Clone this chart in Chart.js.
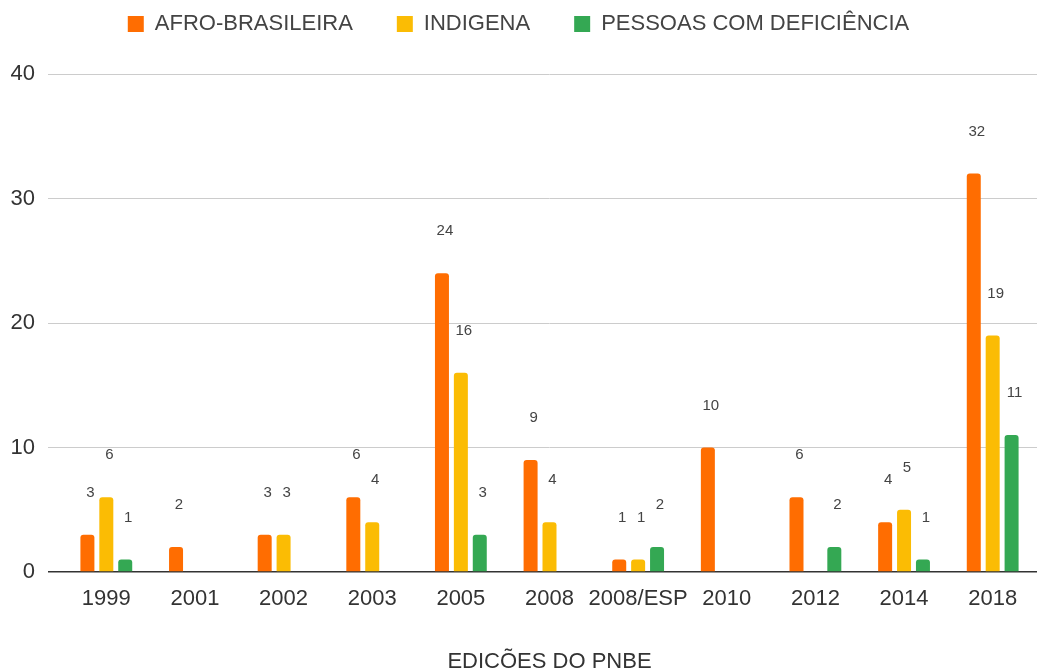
<!DOCTYPE html>
<html>
<head>
<meta charset="utf-8">
<script src="https://cdn.jsdelivr.net/npm/chart.js@4/dist/chart.umd.min.js"></script>
<style>
html,body{margin:0;padding:0;background:#fff;}
#wrap{width:1039px;height:670px;position:relative;}
</style>
</head>
<body>
<div id="wrap"><canvas id="c"></canvas></div>
<script>
const categories = ['1999','2001','2002','2003','2005','2008','2008/ESP','2010','2012','2014','2018'];
const afroBrasileira = [3, 2, 3, 6, 24, 9, 1, 10, 6, 4, 32];
const indigena = [6, null, 3, 4, 16, 4, 1, null, null, 5, 19];
const pessoasComDeficiencia = [1, null, null, null, 3, null, 2, null, 2, 1, 11];
const seriesNames = ['AFRO-BRASILEIRA', 'INDIGENA', 'PESSOAS COM DEFICIÊNCIA'];
const yTicks = [0, 10, 20, 30, 40];
const xTitle = 'EDICÕES DO PNBE';

const FONT = "'Liberation Sans', Arial, sans-serif";

const legendPlacement = {
  id: 'legendPlacement',
  beforeInit(chart) {
    const orig = chart.legend.fit;
    chart.legend.fit = function () {
      orig.bind(chart.legend)();
      this.height = 74;
    };
  },
  afterLayout(chart) {
    chart.legend.top -= 31;
    chart.legend.bottom -= 31;
  }
};

const valueLabels = {
  id: 'valueLabels',
  afterDatasetsDraw(chart) {
    const ctx = chart.ctx;
    ctx.save();
    ctx.font = '15px ' + FONT;
    ctx.fillStyle = '#444';
    ctx.textAlign = 'center';
    ctx.textBaseline = 'middle';
    chart.data.datasets.forEach((ds, i) => {
      const meta = chart.getDatasetMeta(i);
      meta.data.forEach((el, j) => {
        const v = ds.data[j];
        if (v === null || v === undefined) return;
        ctx.fillText(String(v), el.x + 3, el.y - 42);
      });
    });
    ctx.restore();
  }
};

new Chart(document.getElementById('c'), {
  type: 'bar',
  data: {
    labels: categories,
    datasets: [
      { label: seriesNames[0], data: afroBrasileira, backgroundColor: '#FF6D01' },
      { label: seriesNames[1], data: indigena, backgroundColor: '#FBBC04' },
      { label: seriesNames[2], data: pessoasComDeficiencia, backgroundColor: '#34A853' }
    ]
  },
  options: {
    responsive: true,
    maintainAspectRatio: false,
    animation: false,
    layout: { padding: { left: 0, right: 2, top: 0, bottom: 0 } },
    datasets: {
      bar: {
        categoryPercentage: 0.64,
        barPercentage: 0.74,
        borderRadius: 3,
        borderSkipped: 'start'
      }
    },
    plugins: {
      legend: {
        display: true,
        position: 'top',
        align: 'center',
        labels: {
          boxWidth: 16,
          boxHeight: 16,
          padding: 44,
          color: '#444',
          font: { family: FONT, size: 22 }
        }
      },
      tooltip: { enabled: false }
    },
    scales: {
      x: {
        grid: { display: false, drawTicks: false },
        border: { display: false },
        ticks: {
          color: '#333',
          font: { family: FONT, size: 22 },
          padding: 14,
          maxRotation: 0,
          autoSkip: false
        },
        title: {
          display: true,
          text: xTitle,
          color: '#333',
          font: { family: FONT, size: 22, lineHeight: 0.7 },
          padding: { top: 0, bottom: 0 }
        },
        afterFit(scale) { scale.height = 98; }
      },
      y: {
        min: 0,
        max: 40,
        afterBuildTicks(scale) { scale.ticks = yTicks.map(v => ({ value: v })); },
        grid: {
          color: (c) => (c.tick && c.tick.value === 0 ? '#333' : '#cccccc'),
          lineWidth: (c) => (c.tick && c.tick.value === 0 ? 1.5 : 1),
          drawTicks: true,
          tickLength: 14
        },
        border: { display: false },
        ticks: {
          color: '#333',
          font: { family: FONT, size: 22 },
          padding: 13
        },
        afterFit(scale) { scale.width = 62; }
      }
    }
  },
  plugins: [legendPlacement, valueLabels]
});
</script>
</body>
</html>
